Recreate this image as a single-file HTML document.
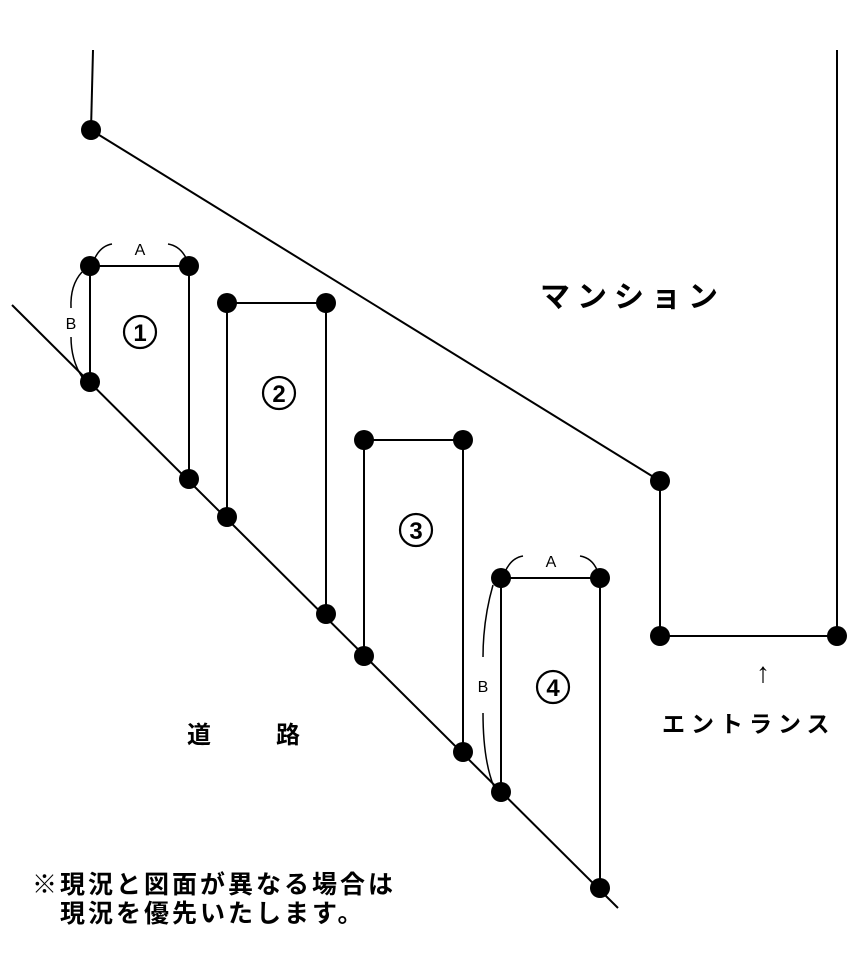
<!DOCTYPE html>
<html><head><meta charset="utf-8"><style>
html,body{margin:0;padding:0;background:#fff;}
svg{display:block;}
text{font-family:"Liberation Sans","Noto Sans CJK JP",sans-serif;fill:#000;}
</style></head><body>
<svg width="864" height="974" viewBox="0 0 864 974" xmlns="http://www.w3.org/2000/svg">
<g stroke="#000" stroke-width="2" fill="none">
<line x1="93" y1="50" x2="91" y2="130"/>
<line x1="837" y1="50" x2="837" y2="636"/>
<line x1="91" y1="130" x2="660" y2="481"/>
<line x1="660" y1="481" x2="660" y2="636"/>
<line x1="660" y1="636" x2="837" y2="636"/>
<line x1="12" y1="305" x2="618" y2="908"/>
<line x1="90" y1="266" x2="189" y2="266"/>
<line x1="90" y1="266" x2="90" y2="382"/>
<line x1="189" y1="266" x2="189" y2="479"/>
<line x1="227" y1="303" x2="326" y2="303"/>
<line x1="227" y1="303" x2="227" y2="517"/>
<line x1="326" y1="303" x2="326" y2="614"/>
<line x1="364" y1="440" x2="463" y2="440"/>
<line x1="364" y1="440" x2="364" y2="656"/>
<line x1="463" y1="440" x2="463" y2="752"/>
<line x1="501" y1="578" x2="600" y2="578"/>
<line x1="501" y1="578" x2="501" y2="792"/>
<line x1="600" y1="578" x2="600" y2="888"/>
<g stroke-width="1.5">
<path d="M94 260 Q100 246 112 244"/>
<path d="M168 244 Q180 246 186 258"/>
<path d="M82 272 Q70 285 71 308"/>
<path d="M71 337 Q71 360 82 377"/>
<path d="M505 572 Q511 558 523 556"/>
<path d="M580 556 Q592 558 597 570"/>
<path d="M493 585 Q483 620 483 657"/>
<path d="M483 713 Q483 760 494 787"/>
</g>
<g stroke-width="2.2">
<circle cx="140" cy="332" r="16"/>
<circle cx="279" cy="393" r="16"/>
<circle cx="416" cy="530" r="16"/>
<circle cx="553" cy="687" r="16"/>
</g>
</g>
<g fill="#000">
<circle cx="91" cy="130" r="10"/>
<circle cx="90" cy="266" r="10"/><circle cx="189" cy="266" r="10"/>
<circle cx="90" cy="382" r="10"/><circle cx="189" cy="479" r="10"/>
<circle cx="227" cy="303" r="10"/><circle cx="326" cy="303" r="10"/>
<circle cx="227" cy="517" r="10"/><circle cx="326" cy="614" r="10"/>
<circle cx="364" cy="440" r="10"/><circle cx="463" cy="440" r="10"/>
<circle cx="364" cy="656" r="10"/><circle cx="463" cy="752" r="10"/>
<circle cx="501" cy="578" r="10"/><circle cx="600" cy="578" r="10"/>
<circle cx="501" cy="792" r="10"/><circle cx="600" cy="888" r="10"/>
<circle cx="660" cy="481" r="10"/><circle cx="660" cy="636" r="10"/>
<circle cx="837" cy="636" r="10"/>
</g>
<text x="140" y="255" font-size="16" text-anchor="middle">A</text>
<text x="71" y="329" font-size="16" text-anchor="middle">B</text>
<text x="551" y="567" font-size="16" text-anchor="middle">A</text>
<text x="483" y="692" font-size="16" text-anchor="middle">B</text>
<g font-size="24" text-anchor="middle" font-weight="bold">
<text x="140" y="341">1</text>
<text x="279" y="402">2</text>
<text x="416" y="539">3</text>
<text x="553" y="696">4</text>
</g>
<text x="540" y="307" font-size="30" font-weight="bold" letter-spacing="7">マンション</text>
<text x="187" y="743" font-size="24" font-weight="bold">道</text>
<text x="276" y="743" font-size="24" font-weight="bold">路</text>
<text x="763" y="682" font-size="28" text-anchor="middle">↑</text>
<text x="662" y="732" font-size="23" font-weight="bold" letter-spacing="6">エントランス</text>
<text x="32" y="893" font-size="25" font-weight="bold" letter-spacing="3">※現況と図面が異なる場合は</text>
<text x="60" y="922" font-size="25" font-weight="bold" letter-spacing="3">現況を優先いたします。</text>
</svg>
</body></html>
